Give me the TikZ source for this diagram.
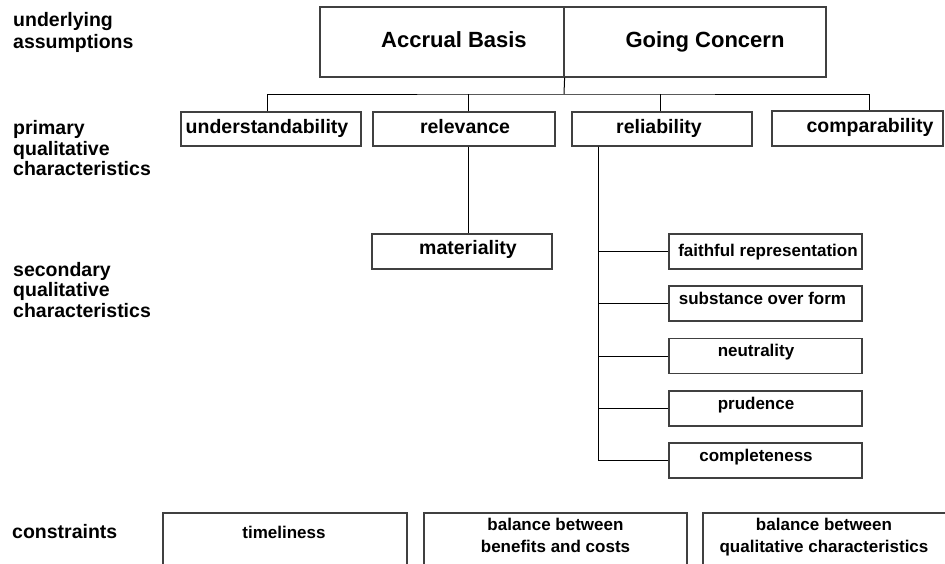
\documentclass[tikz,border=0pt]{standalone}
\usepackage{fontspec}
\setmainfont{Liberation Sans}
\begin{document}
\begin{tikzpicture}[x=1pt,y=-1pt,
  box/.style={draw=black!75, line width=1.2pt, inner sep=0pt},
  wire/.style={draw=black, line width=1pt},
  tbig/.style={font=\fontsize{22}{24}\selectfont\bfseries, inner sep=0pt, anchor=base},
  tmid/.style={font=\fontsize{19.5}{20}\selectfont\bfseries, inner sep=0pt, anchor=base},
  tsmall/.style={font=\fontsize{17}{22}\selectfont\bfseries, inner sep=0pt, anchor=base, align=center},
  side/.style={font=\fontsize{19.5}{20.5}\selectfont\bfseries, inner sep=0pt, anchor=base west, align=left},
  prim/.style={box, minimum width=180pt, minimum height=34pt},
  sub/.style={box, minimum width=193pt, minimum height=35pt},
  cbox/.style={box, minimum height=87pt}]
\useasboundingbox (0,0) rectangle (945,563);
\clip (0,0) rectangle (945,563);

% left-hand labels (anchored at the baseline of their last line)
\node[side, font=\fontsize{19.5}{21.5}\selectfont\bfseries] (lua) at (13,48) {underlying\\assumptions};
\node[side] (lpq) at (13,175.5) {primary\\qualitative\\characteristics};
\node[side] (lsq) at (13,317) {secondary\\qualitative\\characteristics};
\node[side] (lco) at (12,538) {constraints};

% underlying assumptions
\node[box, minimum width=244pt, minimum height=70pt] (ab) at (442,42) {};
\node[box, minimum width=262pt, minimum height=70pt] (gc) at (695,42) {};
\node[tbig] (abT) at (454,47.5) {Accrual Basis};
\node[tbig] (gcT) at (705,47.5) {Going Concern};

% primary characteristics
\node[prim] (und) at (271,129) {};
\node[prim, minimum width=182pt] (rlv) at (464,129) {};
\node[prim] (rel) at (662,129) {};
\node[box, minimum width=171pt, minimum height=35pt] (cmp) at (857.5,128.5) {};
\node[tmid] (undT) at (267,133) {understandability};
\node[tmid] (rlvT) at (465,133) {relevance};
\node[tmid] (relT) at (659,133) {reliability};
\node[tmid] (cmpT) at (870,132) {comparability};

% tree from the assumptions
\coordinate (bar) at (564,94);
\draw[wire] (ab.south east) -- (bar);
\draw[wire] ([xshift=-4pt]und.north) |- (bar) -| ([xshift=11.5pt]cmp.north);
\draw[wire] ([xshift=4pt]rlv.north) -- ([xshift=4pt]rlv.north |- bar);
\draw[wire] ([xshift=-2pt]rel.north) -- ([xshift=-2pt]rel.north |- bar);

% materiality
\node[prim, minimum height=35pt] (mat) at (462,251.5) {};
\node[tmid] (matT) at (468,254) {materiality};
\draw[wire] ([xshift=4pt]rlv.south) -- ([xshift=4pt]rlv.south |- mat.north);

% reliability sub-characteristics
\node[sub] (fr)  at (765.5,251.5) {};
\node[sub] (sof) at (765.5,303.5) {};
\node[sub] (neu) at (765.5,356) {};
\node[sub] (pru) at (765.5,408.5) {};
\node[sub] (cpl) at (765.5,460.5) {};
\node[tsmall] (frT)  at (768,256) {faithful representation};
\node[tsmall] (sofT) at (762.5,304.5) {substance over form};
\node[tsmall] (neuT) at (756,356.5) {neutrality};
\node[tsmall] (pruT) at (756,409.5) {prudence};
\node[tsmall] (cplT) at (756,461) {completeness};
\foreach \n in {fr,sof,neu,pru,cpl}
  \draw[wire] ([xshift=-64pt]rel.south) |- (\n.west);

% constraints
\node[cbox, minimum width=244pt] (tim) at (285,556.5) {};
\node[cbox, minimum width=263pt] (bbc) at (555.5,556.5) {};
\node[cbox, minimum width=267pt] (bqc) at (836.5,556.5) {};
\node[tsmall] (timT) at (284,538) {timeliness};
\node[tsmall] (bbcT) at (555.5,552) {balance between\\benefits and costs};
\node[tsmall] (bqcT) at (824,552) {balance between\\qualitative characteristics};
\end{tikzpicture}
\end{document}
